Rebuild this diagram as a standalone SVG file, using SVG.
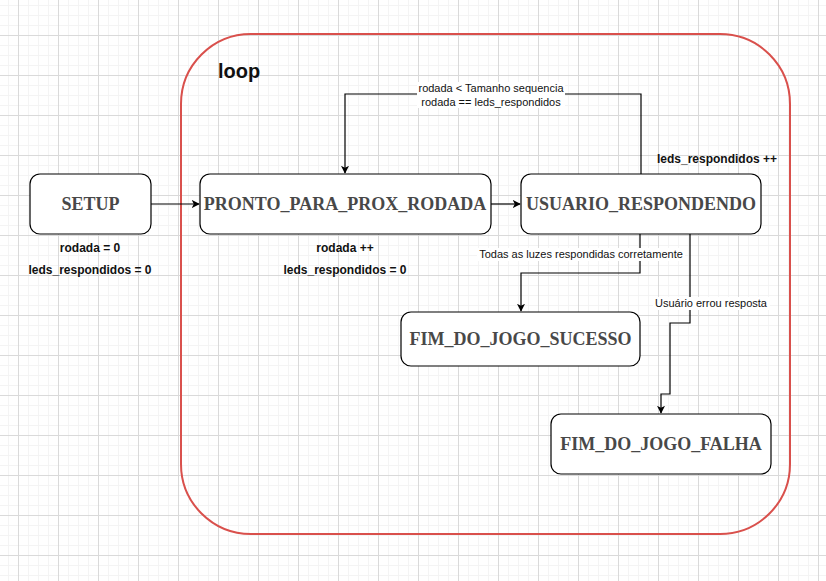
<svg xmlns="http://www.w3.org/2000/svg" width="826" height="581" viewBox="0 0 826 581">
<defs>
<pattern id="grid" patternUnits="userSpaceOnUse" x="18" y="35" width="40" height="40">
<rect x="10" y="0" width="1" height="40" fill="#f4f4f4"/>
<rect x="20" y="0" width="1" height="40" fill="#f4f4f4"/>
<rect x="30" y="0" width="1" height="40" fill="#f4f4f4"/>
<rect x="0" y="10" width="40" height="1" fill="#f4f4f4"/>
<rect x="0" y="20" width="40" height="1" fill="#f4f4f4"/>
<rect x="0" y="30" width="40" height="1" fill="#f4f4f4"/>
<rect x="0" y="0" width="1" height="40" fill="#dadada"/>
<rect x="0" y="0" width="40" height="1" fill="#dadada"/>
</pattern>
<marker id="arr" viewBox="0 0 10 10" refX="9" refY="5" markerWidth="8" markerHeight="8" markerUnits="userSpaceOnUse" orient="auto">
<path d="M0,0 L10,5 L0,10 L2.5,5 Z" fill="#000"/>
</marker>
<style>
.node rect{fill:#fff;stroke:#000;stroke-width:1.2}
.node text{font-family:"Liberation Serif","Times New Roman",serif;font-weight:bold;font-size:18px;fill:#484848;text-anchor:middle}
.conn path{fill:none;stroke:#000;stroke-width:1.2}
.lbl{font-family:"Liberation Sans",Arial,sans-serif;font-size:11px;fill:#111;text-anchor:middle}
.note{font-family:"Liberation Sans",Arial,sans-serif;font-size:12px;font-weight:bold;fill:#111;text-anchor:middle}
</style>
</defs>
<rect width="826" height="581" fill="#fff"/>
<rect width="826" height="581" fill="url(#grid)"/>

<g id="loop">
<rect x="181" y="34" width="609" height="500" rx="70" ry="70" fill="none" stroke="#d9504c" stroke-width="2"/>
<text x="218" y="78" font-family="'Liberation Sans',Arial,sans-serif" font-size="20" font-weight="bold" fill="#111">loop</text>
</g>

<g id="connectors" class="conn">
<path d="M151,204 H199" marker-end="url(#arr)"/>
<path d="M491,204 H520" marker-end="url(#arr)"/>
<path d="M641,174 V94 H345 V173" marker-end="url(#arr)"/>
<path d="M640,234 V273 H521 V311" marker-end="url(#arr)"/>
<path d="M690,234 V323 H670 V394 H661 V413" marker-end="url(#arr)"/>
</g>

<g id="connector-labels">
<rect x="417" y="82" width="148" height="26" fill="#fff"/>
<text class="lbl" x="491" y="92">rodada &lt; Tamanho sequencia</text>
<text class="lbl" x="491" y="106">rodada == leds_respondidos</text>
<rect x="477" y="248" width="208" height="13" fill="#fff"/>
<text class="lbl" x="581" y="258">Todas as luzes respondidas corretamente</text>
<rect x="653" y="297" width="117" height="13" fill="#fff"/>
<text class="lbl" x="711" y="307">Usuário errou resposta</text>
</g>

<g id="setup" class="node">
<rect x="30" y="174" width="121" height="60" rx="10"/>
<text x="90.5" y="210">SETUP</text>
</g>
<g id="pronto" class="node">
<rect x="200" y="174" width="291" height="60" rx="10"/>
<text x="345" y="210">PRONTO_PARA_PROX_RODADA</text>
</g>
<g id="usuario" class="node">
<rect x="521" y="174" width="240" height="60" rx="10"/>
<text x="641" y="210">USUARIO_RESPONDENDO</text>
</g>
<g id="sucesso" class="node">
<rect x="401" y="312" width="239" height="54" rx="10"/>
<text x="520.5" y="345">FIM_DO_JOGO_SUCESSO</text>
</g>
<g id="falha" class="node">
<rect x="551" y="414" width="220" height="60" rx="10"/>
<text x="661" y="450">FIM_DO_JOGO_FALHA</text>
</g>

<g id="notes">
<text class="note" x="90" y="252">rodada = 0</text>
<text class="note" x="90" y="274">leds_respondidos = 0</text>
<text class="note" x="345" y="252">rodada ++</text>
<text class="note" x="345" y="274">leds_respondidos = 0</text>
<text class="note" x="717" y="163">leds_respondidos ++</text>
</g>
</svg>
